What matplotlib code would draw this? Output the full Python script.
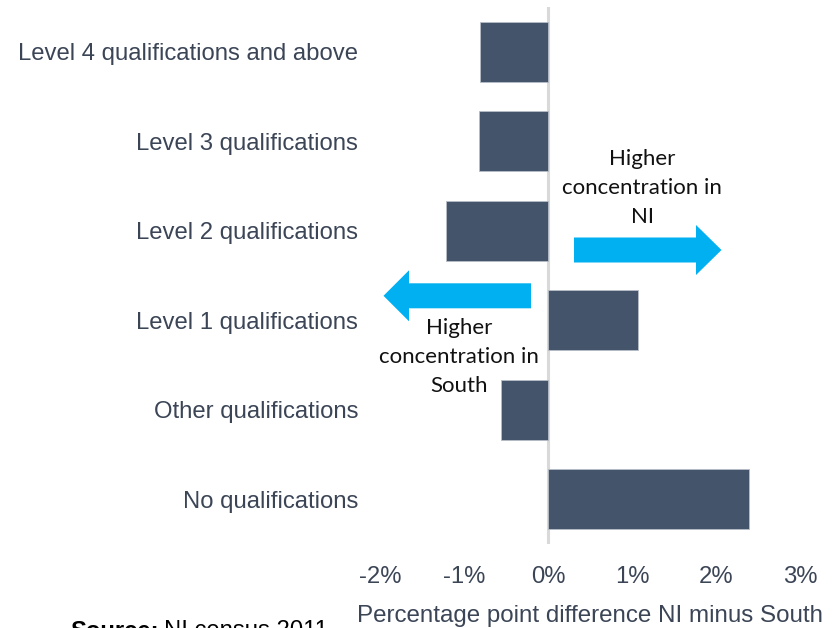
import matplotlib
matplotlib.use("Agg")
import matplotlib.pyplot as plt
from matplotlib.patches import FancyArrow

# Difference in share of residents by highest qualification, NI minus South (percentage points)
categories = [
    "Level 4 qualifications and above",
    "Level 3 qualifications",
    "Level 2 qualifications",
    "Level 1 qualifications",
    "Other qualifications",
    "No qualifications",
]
values = [-0.81, -0.83, -1.22, 1.07, -0.56, 2.39]
tick_values = [-2, -1, 0, 1, 2, 3]
tick_labels = ["-2%", "-1%", "0%", "1%", "2%", "3%"]

BAR = "#44546A"
ARROW = "#00B0F0"
TEXT = "#3B4556"
W, H = 838, 628
FS = 17.2

fig = plt.figure(figsize=(W / 100, H / 100), dpi=100)
ax = fig.add_axes([380.5 / W, 1 - 544 / H, (800 - 380.5) / W, (544 - 7) / H])

ypos = list(range(len(categories)))
ax.barh(ypos, values, height=0.67, color=BAR, edgecolor="#B8BEC8", linewidth=0.6, zorder=3)
ax.set_ylim(len(categories) - 0.5, -0.5)
ax.set_xlim(tick_values[0], tick_values[-1])
ax.axvline(0, color="#D9D9D9", linewidth=2.2, zorder=2)

for s in ax.spines.values():
    s.set_visible(False)
ax.set_xticks(tick_values)
ax.set_xticklabels(tick_labels)
ax.set_yticks(ypos)
ax.set_yticklabels(categories)
ax.tick_params(axis="both", length=0, colors=TEXT, labelsize=FS)
ax.tick_params(axis="y", pad=16)
ax.tick_params(axis="x", pad=16)
for lab in ax.get_xticklabels() + ax.get_yticklabels():
    lab.set_fontfamily("Liberation Sans")

ax.set_xlabel("Percentage point difference NI minus South", fontsize=FS + 0.2,
              color=TEXT, family="Liberation Sans", labelpad=12)

# Direction arrows, in pixel-based figure coordinates
def px_arrow(x0, x1, yc, half_shaft, half_head, head_len):
    arr = FancyArrow(x0 / W, 1 - yc / H, (x1 - x0) / W, 0, width=2 * half_shaft / H,
                     head_width=2 * half_head / H, head_length=head_len / W,
                     length_includes_head=True, color=ARROW, lw=0,
                     transform=fig.transFigure)
    fig.add_artist(arr)

px_arrow(574, 721.5, 250, 12.5, 25, 25.5)
px_arrow(531, 383.5, 295.8, 12.5, 25.5, 25.5)

fig.text(642 / W, 1 - 188 / H, "Higher\nconcentration in\nNI", ha="center", va="center",
         fontsize=16, family="Lato", color="#111111", linespacing=1.55)
fig.text(459 / W, 1 - 357 / H, "Higher\nconcentration in\nSouth", ha="center", va="center",
         fontsize=16, family="Lato", color="#111111", linespacing=1.55)

# Source note along the bottom edge
src = fig.text(70 / W, 1 - 620 / H, "Source:", ha="left", va="top", fontsize=FS,
               family="Liberation Sans", weight="bold", color="#000000")
fig.canvas.draw()
bb = src.get_window_extent()
fig.text((bb.x1 + 5) / W, 1 - 620 / H, "NI census 2011", ha="left", va="top",
         fontsize=FS, family="Liberation Sans", color="#000000")

fig.savefig("out.png", dpi=100)
